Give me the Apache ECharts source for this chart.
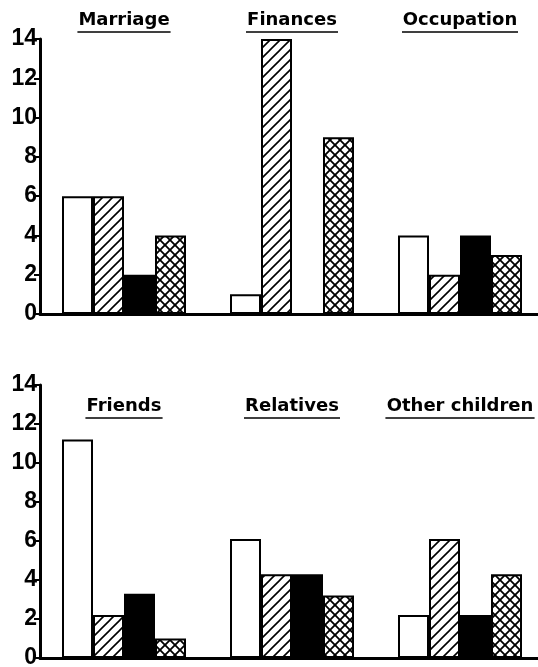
<!DOCTYPE html>
<html>
<head>
<meta charset="utf-8">
<script src="https://cdn.jsdelivr.net/npm/echarts@6/dist/echarts.min.js"></script>
<style>
html,body{margin:0;padding:0;background:#fff;}
#chart{width:538px;height:667px;}
</style>
</head>
<body>
<div id="chart"></div>
<script>
// ---- data ----
const topCategories = ['Marriage', 'Finances', 'Occupation'];
const bottomCategories = ['Friends', 'Relatives', 'Other children'];

const topWhite   = [6, 1, 4];
const topHatched = [6, 14, 2];
const topBlack   = [2, 0, 4];
const topCross   = [4, 9, 3];

const bottomWhite   = [11.2, 6.1, 2.2];
const bottomHatched = [2.2, 4.3, 6.1];
const bottomBlack   = [3.3, 4.3, 2.2];
const bottomCross   = [1.0, 3.2, 4.3];

const yMin = 0, yMax = 14, yInterval = 2;

// ---- patterns ----
function makePattern(cross) {
  const s = 10;
  const c = document.createElement('canvas');
  c.width = s; c.height = s;
  const g = c.getContext('2d');
  g.fillStyle = '#fff';
  g.fillRect(0, 0, s, s);
  g.strokeStyle = '#000';
  g.lineWidth = cross ? 1.8 : 1.6;
  g.beginPath();
  g.moveTo(-1, s + 1); g.lineTo(s + 1, -1);
  g.moveTo(-1, 1); g.lineTo(1, -1);
  g.moveTo(s - 1, s + 1); g.lineTo(s + 1, s - 1);
  g.stroke();
  if (cross) {
    g.beginPath();
    g.moveTo(-1, -1); g.lineTo(s + 1, s + 1);
    g.moveTo(s - 1, -1); g.lineTo(s + 1, 1);
    g.moveTo(-1, s - 1); g.lineTo(1, s + 1);
    g.stroke();
  }
  return c;
}
const hatchFill = { image: makePattern(false), repeat: 'repeat' };
const crossFill = { image: makePattern(true), repeat: 'repeat' };

const FONT = 'DejaVu Sans';
const TICK_FONT = 'Liberation Sans';
const TITLE_SIZE = 18;

// measure title widths for underline
const mctx = document.createElement('canvas').getContext('2d');
mctx.font = 'bold ' + TITLE_SIZE + 'px "' + FONT + '"';
function titleWidth(s) { return Math.round(mctx.measureText(s).width) + 2; }

const chart = echarts.init(document.getElementById('chart'), null, { renderer: 'canvas' });

const grids = [
  { left: 40, top: 39, width: 504, height: 275, outerBoundsMode: 'none', containLabel: false },
  { left: 40, top: 385, width: 504, height: 273, outerBoundsMode: 'none', containLabel: false }
];

function valueAxis(gi) {
  return {
    type: 'value', gridIndex: gi, min: yMin, max: yMax, interval: yInterval,
    splitLine: { show: false },
    axisLine: { show: true, lineStyle: { color: '#000', width: 3 } },
    axisTick: { show: true, length: 6, lineStyle: { color: '#000', width: 2 } },
    axisLabel: { color: '#000', fontFamily: TICK_FONT, fontWeight: 'bold', fontSize: 23, margin: 3 }
  };
}
function baseAxis(gi, cats) {
  return {
    type: 'category', gridIndex: gi, data: cats, position: 'bottom',
    axisLine: { show: true, onZero: false, lineStyle: { color: '#000', width: 3 } },
    axisTick: { show: false },
    axisLabel: { show: false }
  };
}
function titleAxis(gi, cats, offset) {
  const rich = {};
  cats.forEach((c, i) => {
    rich['hr' + i] = { borderColor: '#000', borderWidth: 1, width: titleWidth(c), height: 0, lineHeight: 4 };
  });
  rich.t = { color: '#000', fontFamily: FONT, fontWeight: 'bold', fontSize: TITLE_SIZE, lineHeight: 20 };
  return {
    type: 'category', gridIndex: gi, data: cats, position: 'top', offset: offset,
    axisLine: { show: false }, axisTick: { show: false },
    axisLabel: {
      show: true, interval: 0, margin: 5, verticalAlign: 'bottom',
      formatter: (v) => '{t|' + v + '}\n{hr' + cats.indexOf(v) + '|}',
      rich: rich
    }
  };
}

function bar(name, data, xi, yi, fill) {
  return {
    name: name, type: 'bar', xAxisIndex: xi, yAxisIndex: yi, data: data,
    barWidth: 31, barGap: '0%',
    itemStyle: { color: fill, borderColor: '#000', borderWidth: 2 },
    silent: true
  };
}

chart.setOption({
  animation: false,
  backgroundColor: '#fff',
  grid: grids,
  xAxis: [
    baseAxis(0, topCategories),
    baseAxis(1, bottomCategories),
    titleAxis(0, topCategories, 0),
    titleAxis(1, bottomCategories, -40)
  ],
  yAxis: [valueAxis(0), valueAxis(1)],
  series: [
    bar('White', topWhite, 0, 0, '#fff'),
    bar('Hatched', topHatched, 0, 0, hatchFill),
    bar('Black', topBlack, 0, 0, '#000'),
    bar('Cross-hatched', topCross, 0, 0, crossFill),
    bar('White', bottomWhite, 1, 1, '#fff'),
    bar('Hatched', bottomHatched, 1, 1, hatchFill),
    bar('Black', bottomBlack, 1, 1, '#000'),
    bar('Cross-hatched', bottomCross, 1, 1, crossFill)
  ]
});
</script>
</body>
</html>
